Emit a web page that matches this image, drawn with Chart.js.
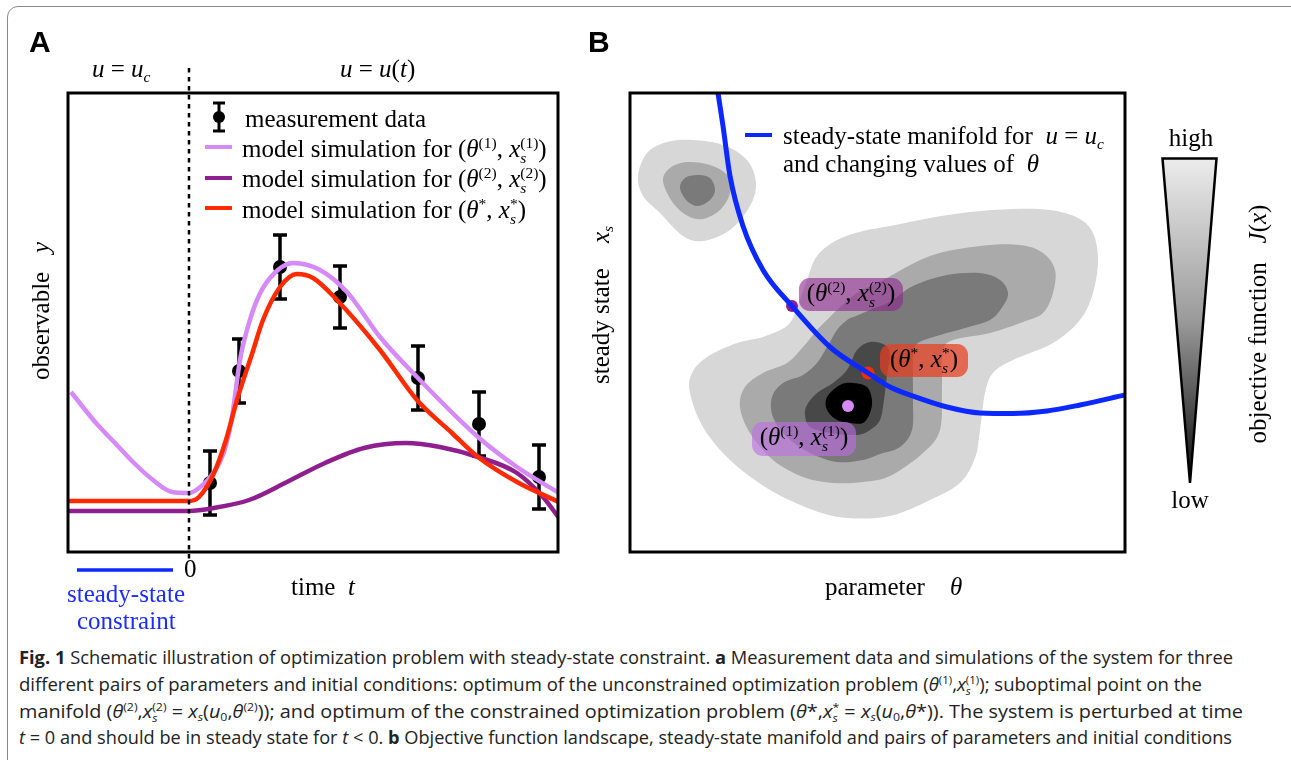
<!DOCTYPE html>
<html>
<head>
<meta charset="utf-8">
<script src="https://cdn.jsdelivr.net/npm/chart.js@4.4.0/dist/chart.umd.min.js"></script>
<style>
  body { margin:0; width:1291px; height:760px; background:#fff; overflow:hidden; position:relative; font-family:"Liberation Serif", "Times New Roman", serif; color:#000; }
  .frame { position:absolute; left:7px; top:6px; width:1320px; height:820px; border:1.5px solid #8a8a8a; border-radius:11px; }
  .abs { position:absolute; white-space:nowrap; line-height:1; }
  .t { font-size:25px; }
  .panel { font-family:"Liberation Sans", Arial, sans-serif; font-weight:bold; font-size:30px; }
  .rot { transform:translate(-50%,-50%) rotate(-90deg); }
  sup { font-size:0.62em; vertical-align:0.6em; line-height:0; }
  sub { font-size:0.62em; vertical-align:-0.3em; line-height:0; }
  .ss { display:inline-block; vertical-align:-0.35em; line-height:0.95; font-size:0.62em; }
  .ss span { display:block; }
  .tag { position:absolute; border-radius:11px; font-size:25px; line-height:1; white-space:nowrap; display:flex; align-items:center; justify-content:center; }
  .cap { position:absolute; left:19px; white-space:nowrap; font-family:"Liberation Sans Narrow", "Open Sans", sans-serif; font-size:18px; line-height:1; transform-origin:0 50%; color:#222; }
  .cap i { font-style:italic; }
  canvas { position:absolute; }
</style>
</head>
<body>
<div class="frame"></div>

<canvas id="chartA" width="600" height="640" style="left:0;top:0"></canvas>
<canvas id="chartB" width="691" height="640" style="left:600px;top:0"></canvas>

<!-- panel A text -->
<div class="abs panel" style="left:29px;top:27px">A</div>
<div class="abs t" style="left:92px;top:56px"><i>u</i> = <i>u</i><sub><i>c</i></sub></div>
<div class="abs t" style="left:340px;top:56px"><i>u</i> = <i>u</i>(<i>t</i>)</div>
<svg class="abs" style="left:211px;top:101px" width="16" height="32">
  <line x1="8" y1="2" x2="8" y2="30" stroke="#000" stroke-width="3"/>
  <line x1="2" y1="2" x2="14" y2="2" stroke="#000" stroke-width="3"/>
  <line x1="2" y1="30" x2="14" y2="30" stroke="#000" stroke-width="3"/>
  <circle cx="8" cy="16" r="6" fill="#000"/>
</svg>
<div class="abs t" style="left:245px;top:106px">measurement data</div>
<div class="abs" style="left:205px;top:145px;width:27px;height:4px;background:#d68af8"></div>
<div class="abs" style="left:205px;top:176px;width:27px;height:4px;background:#8f1f8f"></div>
<div class="abs" style="left:205px;top:206px;width:27px;height:4px;background:#ff2a00"></div>
<div class="abs t" style="left:242px;top:136px">model simulation for (<i>θ</i><sup>(1)</sup>, <i>x</i><span class="ss"><span>(1)</span><span><i>s</i></span></span>)</div>
<div class="abs t" style="left:242px;top:166px">model simulation for (<i>θ</i><sup>(2)</sup>, <i>x</i><span class="ss"><span>(2)</span><span><i>s</i></span></span>)</div>
<div class="abs t" style="left:242px;top:197px">model simulation for (<i>θ</i><sup>*</sup>, <i>x</i><span class="ss"><span>*</span><span><i>s</i></span></span>)</div>
<div class="abs t rot" style="left:40px;top:311px">observable&nbsp;&nbsp;&nbsp;<i>y</i></div>
<div class="abs t" style="left:184px;top:556px">0</div>
<div class="abs t" style="left:291px;top:574px">time&nbsp;&nbsp;<i>t</i></div>
<div class="abs t" style="left:67px;top:581px;color:#1a2cff">steady-state</div>
<div class="abs t" style="left:77px;top:608px;color:#1a2cff">constraint</div>

<!-- panel B text -->
<div class="abs panel" style="left:588px;top:27px">B</div>
<div class="abs" style="left:745px;top:133px;width:27px;height:4px;background:#0a28ff"></div>
<div class="abs t" style="left:783px;top:123px">steady-state manifold for&nbsp;&nbsp;<i>u</i> = <i>u</i><sub><i>c</i></sub></div>
<div class="abs t" style="left:783px;top:151px">and changing values of&nbsp;&nbsp;<i>θ</i></div>
<div class="abs t rot" style="left:600px;top:305px">steady state&nbsp;&nbsp;&nbsp;&nbsp;<i>x</i><sub><i>s</i></sub></div>
<div class="abs t" style="left:825px;top:574px">parameter&nbsp;&nbsp;&nbsp;&nbsp;<i>θ</i></div>
<div class="tag" style="left:799px;top:278px;width:104px;height:33px;background:rgba(142,40,142,0.62)"><span>(<i>θ</i><sup>(2)</sup>, <i>x</i><span class="ss"><span>(2)</span><span><i>s</i></span></span>)</span></div>
<div class="tag" style="left:880px;top:344px;width:88px;height:33px;background:rgba(232,62,32,0.72)"><span>(<i>θ</i><sup>*</sup>, <i>x</i><span class="ss"><span>*</span><span><i>s</i></span></span>)</span></div>
<div class="tag" style="left:752px;top:422px;width:104px;height:34px;background:rgba(190,110,228,0.62)"><span>(<i>θ</i><sup>(1)</sup>, <i>x</i><span class="ss"><span>(1)</span><span><i>s</i></span></span>)</span></div>

<svg class="abs" style="left:1150px;top:150px" width="80" height="345">
  <defs>
    <linearGradient id="jg" x1="0" y1="0" x2="0" y2="1">
      <stop offset="0" stop-color="#ececec"/>
      <stop offset="0.5" stop-color="#9a9a9a"/>
      <stop offset="1" stop-color="#0a0a0a"/>
    </linearGradient>
  </defs>
  <polygon points="12.5,8.5 66.5,8.5 40,333" fill="url(#jg)" stroke="#000" stroke-width="2.5" stroke-linejoin="miter"/>
</svg>
<div class="abs t" style="left:1191px;top:125px;transform:translateX(-50%)">high</div>
<div class="abs t" style="left:1190px;top:487px;transform:translateX(-50%)">low</div>
<div class="abs t rot" style="left:1257px;top:324px">objective function&nbsp;&nbsp;&nbsp;<i>J</i>(<i>x</i>)</div>

<!-- caption -->
<div class="cap" data-w="1214" style="top:648px"><b>Fig. 1</b> Schematic illustration of optimization problem with steady-state constraint. <b>a</b> Measurement data and simulations of the system for three</div>
<div class="cap" data-w="1183" style="top:675px">different pairs of parameters and initial conditions: optimum of the unconstrained optimization problem (<i>θ</i><sup>(1)</sup>,<i>x</i><span class="ss"><span>(1)</span><span><i>s</i></span></span>); suboptimal point on the</div>
<div class="cap" data-w="1224" style="top:702px">manifold (<i>θ</i><sup>(2)</sup>,<i>x</i><span class="ss"><span>(2)</span><span><i>s</i></span></span> = <i>x<sub>s</sub></i>(<i>u</i><sub>0</sub>,<i>θ</i><sup>(2)</sup>)); and optimum of the constrained optimization problem (<i>θ</i>*,<i>x</i><span class="ss"><span>*</span><span><i>s</i></span></span> = <i>x<sub>s</sub></i>(<i>u</i><sub>0</sub>,<i>θ</i>*)). The system is perturbed at time</div>
<div class="cap" data-w="1213" style="top:728px"><i>t</i> = 0 and should be in steady state for <i>t</i> &lt; 0. <b>b</b> Objective function landscape, steady-state manifold and pairs of parameters and initial conditions</div>

<script>
// ---- panel A: time courses ----
const tMeas = [0.21, 0.50, 0.91, 1.51, 2.29, 2.90, 3.50];
const yMeas = [0.69, 1.81, 2.85, 2.55, 1.74, 1.28, 0.75];
const yErr  = [0.32, 0.32, 0.32, 0.31, 0.32, 0.32, 0.32];

// (theta1, xs1) - unconstrained optimum
const tSim1 = [-1.18, -0.93, -0.74, -0.55, -0.36, -0.17, 0, 0.10, 0.25, 0.35, 0.43, 0.51, 0.58, 0.68, 0.81, 1.04, 1.31, 1.58, 1.91, 2.28, 2.89, 3.28, 3.70];
const ySim1 = [1.60, 1.29, 1.09, 0.89, 0.72, 0.60, 0.59, 0.64, 0.80, 1.00, 1.35, 1.92, 2.22, 2.52, 2.74, 2.89, 2.82, 2.60, 2.15, 1.75, 1.15, 0.85, 0.59];
// (theta2, xs2) - suboptimal point on manifold
const tSim2 = [-1.21, -0.5, 0, 0.25, 0.60, 0.98, 1.36, 1.75, 2.17, 2.51, 2.89, 3.28, 3.54, 3.70];
const ySim2 = [0.41, 0.41, 0.41, 0.44, 0.52, 0.70, 0.89, 1.04, 1.09, 1.05, 0.95, 0.79, 0.55, 0.34];
// (theta*, xs*) - constrained optimum
const tSimS = [-1.21, -0.5, 0, 0.10, 0.25, 0.37, 0.48, 0.63, 0.74, 0.91, 1.08, 1.24, 1.48, 1.91, 2.28, 2.63, 2.89, 3.28, 3.70];
const ySimS = [0.51, 0.51, 0.51, 0.55, 0.79, 1.12, 1.52, 1.98, 2.32, 2.65, 2.78, 2.74, 2.52, 2.02, 1.52, 1.19, 0.95, 0.70, 0.50];

const tConstraint = [-1.12, -0.16];

// ---- panel B: objective landscape (theta, xs) ----
const blobLight = [[0.08,3.76],[0.17,3.99],[0.37,4.10],[0.63,4.12],[0.93,4.07],[1.17,3.92],[1.26,3.69],[1.20,3.46],[1.00,3.22],[0.73,3.11],[0.53,3.16],[0.30,3.39],[0.13,3.56]];
const blobMid = [[0.33,3.71],[0.40,3.84],[0.57,3.90],[0.80,3.87],[0.98,3.76],[1.00,3.59],[0.90,3.42],[0.73,3.33],[0.58,3.36],[0.43,3.49]];
const blobDark = [[0.50,3.64],[0.55,3.74],[0.67,3.77],[0.80,3.74],[0.85,3.62],[0.80,3.52],[0.68,3.46],[0.57,3.51]];

const ridgeLight = [[1.68,2.47],[1.77,2.72],[1.87,2.96],[2.07,3.12],[2.33,3.21],[2.60,3.26],[3.00,3.34],[3.40,3.40],[3.83,3.43],[4.20,3.42],[4.48,3.34],[4.63,3.19],[4.68,2.92],[4.63,2.59],[4.50,2.32],[4.23,2.09],[3.83,1.92],[3.63,1.79],[3.55,1.59],[3.50,1.22],[3.45,0.94],[3.30,0.69],[3.00,0.52],[2.60,0.36],[2.17,0.34],[1.83,0.42],[1.40,0.62],[1.00,0.92],[0.73,1.25],[0.60,1.59],[0.62,1.79],[0.77,1.95],[1.07,2.09],[1.33,2.15],[1.58,2.27]];
const ridgeMid = [[1.97,2.32],[2.07,2.42],[2.27,2.59],[2.53,2.72],[3.00,2.96],[3.50,3.06],[3.90,3.07],[4.13,2.99],[4.25,2.82],[4.23,2.59],[4.13,2.39],[3.93,2.30],[3.60,2.19],[3.23,2.12],[3.13,2.00],[3.12,1.65],[3.10,1.22],[2.93,0.99],[2.60,0.76],[2.33,0.70],[2.03,0.69],[1.73,0.75],[1.43,0.92],[1.20,1.19],[1.10,1.45],[1.15,1.65],[1.33,1.79],[1.57,1.89],[1.73,2.05],[1.87,2.22]];
const ridgeDark = [[2.17,2.32],[2.26,2.36],[2.40,2.42],[2.60,2.50],[2.83,2.66],[3.17,2.77],[3.50,2.79],[3.70,2.72],[3.78,2.59],[3.73,2.46],[3.60,2.32],[3.35,2.24],[3.00,2.14],[2.86,2.07],[2.83,1.92],[2.83,1.52],[2.82,1.22],[2.70,1.05],[2.50,0.98],[2.33,0.92],[2.07,0.90],[1.80,0.99],[1.57,1.15],[1.43,1.35],[1.42,1.55],[1.53,1.69],[1.73,1.77],[1.87,1.89],[1.97,2.05],[2.07,2.22]];
const ridgeDarker = [[2.40,2.10],[2.55,2.07],[2.60,1.97],[2.57,1.77],[2.54,1.52],[2.50,1.32],[2.40,1.22],[2.27,1.17],[2.00,1.19],[1.80,1.25],[1.75,1.37],[1.77,1.47],[1.87,1.59],[2.03,1.69],[2.17,1.82],[2.27,2.02]];
const ridgeCore = [[1.97,1.55],[2.10,1.67],[2.23,1.69],[2.37,1.65],[2.42,1.52],[2.40,1.39],[2.33,1.29],[2.20,1.29],[2.07,1.32],[1.97,1.42]];

const thetaManifold = [0.88, 0.93, 1.00, 1.13, 1.33, 1.62, 2.00, 2.38, 2.60, 2.83, 3.17, 3.50, 3.83, 4.17, 4.50, 4.95];
const xsManifold    = [4.59, 4.26, 3.76, 3.26, 2.82, 2.46, 2.05, 1.79, 1.65, 1.56, 1.45, 1.39, 1.385, 1.41, 1.47, 1.57];

const pointTheta1 = [2.18, 1.46];
const pointTheta2 = [1.62, 2.46];
const pointThetaS = [2.38, 1.79];

const lightPurple = '#d68af8', darkPurple = '#8f1f8f', red = '#ff2a00', blue = '#0a28ff';

const xy = (xs, ys) => xs.map((x, i) => ({x: x, y: ys[i]}));
const pairs = arr => arr.map(p => ({x: p[0], y: p[1]}));

// frame around the plot area
const boxPlugin = {
  id: 'box',
  afterDraw(chart) {
    const a = chart.chartArea, ctx = chart.ctx;
    ctx.save();
    ctx.lineWidth = 3;
    ctx.strokeStyle = '#000';
    ctx.strokeRect(a.left, a.top, a.right - a.left, a.bottom - a.top);
    ctx.restore();
  }
};

// error bars under the measurement dots
const errorBarPlugin = {
  id: 'errbars',
  beforeDatasetDraw(chart, args) {
    const ds = chart.data.datasets[args.index];
    if (!ds.err) return;
    const ctx = chart.ctx, ys = chart.scales.y;
    ctx.save();
    ctx.strokeStyle = '#000';
    ctx.lineWidth = 3.5;
    args.meta.data.forEach((pt, i) => {
      const top = ys.getPixelForValue(ds.data[i].y + ds.err[i]);
      const bot = ys.getPixelForValue(ds.data[i].y - ds.err[i]);
      ctx.beginPath();
      ctx.moveTo(pt.x, top); ctx.lineTo(pt.x, bot);
      ctx.moveTo(pt.x - 7, top); ctx.lineTo(pt.x + 7, top);
      ctx.moveTo(pt.x - 7, bot); ctx.lineTo(pt.x + 7, bot);
      ctx.stroke();
    });
    ctx.restore();
  }
};

// t = 0 dashed marker and the steady-state constraint bar
const timeMarkPlugin = {
  id: 'tmark',
  afterDraw(chart) {
    const ctx = chart.ctx, xs = chart.scales.x, a = chart.chartArea;
    const x0 = xs.getPixelForValue(0);
    ctx.save();
    ctx.strokeStyle = '#000';
    ctx.lineWidth = 2.5;
    ctx.setLineDash([4.5, 4.5]);
    ctx.beginPath();
    ctx.moveTo(x0, 68); ctx.lineTo(x0, a.bottom + 10);
    ctx.stroke();
    ctx.setLineDash([]);
    ctx.strokeStyle = blue;
    ctx.lineWidth = 3.5;
    ctx.beginPath();
    ctx.moveTo(xs.getPixelForValue(tConstraint[0]), a.bottom + 18);
    ctx.lineTo(xs.getPixelForValue(tConstraint[1]), a.bottom + 18);
    ctx.stroke();
    ctx.restore();
  }
};

// filled contour levels, smooth closed curves through the dataset points
const contourPlugin = {
  id: 'contours',
  beforeDatasetsDraw(chart) {
    const ctx = chart.ctx, a = chart.chartArea;
    ctx.save();
    ctx.beginPath();
    ctx.rect(a.left, a.top, a.right - a.left, a.bottom - a.top);
    ctx.clip();
    chart.data.datasets.forEach((ds, i) => {
      if (!ds.contourColor) return;
      const pts = chart.getDatasetMeta(i).data;
      const n = pts.length;
      ctx.beginPath();
      ctx.moveTo(pts[0].x, pts[0].y);
      for (let k = 0; k < n; k++) {
        const p0 = pts[(k - 1 + n) % n], p1 = pts[k], p2 = pts[(k + 1) % n], p3 = pts[(k + 2) % n];
        ctx.bezierCurveTo(
          p1.x + (p2.x - p0.x) / 6, p1.y + (p2.y - p0.y) / 6,
          p2.x - (p3.x - p1.x) / 6, p2.y - (p3.y - p1.y) / 6,
          p2.x, p2.y);
      }
      ctx.closePath();
      ctx.fillStyle = ds.contourColor;
      ctx.fill();
    });
    ctx.restore();
  }
};

const baseOpts = {
  responsive: false,
  animation: false,
  events: [],
  plugins: { legend: { display: false }, tooltip: { enabled: false } }
};

const simLine = (data, color, order) => ({
  type: 'scatter', data: data, showLine: true, borderColor: color, borderWidth: 4.5,
  pointRadius: 0, cubicInterpolationMode: 'monotone', order: order
});

new Chart(document.getElementById('chartA'), {
  type: 'scatter',
  data: {
    datasets: [
      simLine(xy(tSim2, ySim2), darkPurple, 3),
      simLine(xy(tSim1, ySim1), lightPurple, 2),
      simLine(xy(tSimS, ySimS), red, 1),
      { data: xy(tMeas, yMeas), err: yErr, pointRadius: 7, pointBackgroundColor: '#000', pointBorderWidth: 0, order: 10 }
    ]
  },
  options: Object.assign({}, baseOpts, {
    layout: { padding: { left: 68, top: 93, right: 42, bottom: 88 } },
    scales: {
      x: { type: 'linear', min: -1.21, max: 3.69, display: false },
      y: { type: 'linear', min: 0, max: 4.59, display: false }
    }
  }),
  plugins: [errorBarPlugin, timeMarkPlugin, boxPlugin]
});

const contour = (arr, color) => ({ data: pairs(arr), contourColor: color, pointRadius: 0, showLine: false });
const dot = (p, color, r) => ({ data: [{x: p[0], y: p[1]}], pointRadius: r, pointBackgroundColor: color, pointBorderWidth: 0 });

new Chart(document.getElementById('chartB'), {
  type: 'scatter',
  data: {
    datasets: [
      contour(blobLight, '#d7d7d7'),
      contour(blobMid, '#aaaaaa'),
      contour(blobDark, '#7a7a7a'),
      contour(ridgeLight, '#d7d7d7'),
      contour(ridgeMid, '#aaaaaa'),
      contour(ridgeDark, '#7a7a7a'),
      contour(ridgeDarker, '#484848'),
      contour(ridgeCore, '#000000'),
      { data: xy(thetaManifold, xsManifold), showLine: true, borderColor: blue, borderWidth: 5,
        pointRadius: 0, cubicInterpolationMode: 'monotone' },
      dot(pointTheta2, darkPurple, 6),
      dot(pointThetaS, red, 6.5),
      dot(pointTheta1, lightPurple, 6)
    ]
  },
  options: Object.assign({}, baseOpts, {
    layout: { padding: { left: 30, top: 93, right: 166, bottom: 88 } },
    scales: {
      x: { type: 'linear', min: 0, max: 4.95, display: false },
      y: { type: 'linear', min: 0, max: 4.59, display: false }
    }
  }),
  plugins: [contourPlugin, boxPlugin]
});

// fit caption lines to their printed width
document.querySelectorAll('.cap').forEach(el => {
  const w = el.getBoundingClientRect().width;
  el.style.transform = 'scaleX(' + (parseFloat(el.dataset.w) / w) + ')';
});
</script>
</body>
</html>
